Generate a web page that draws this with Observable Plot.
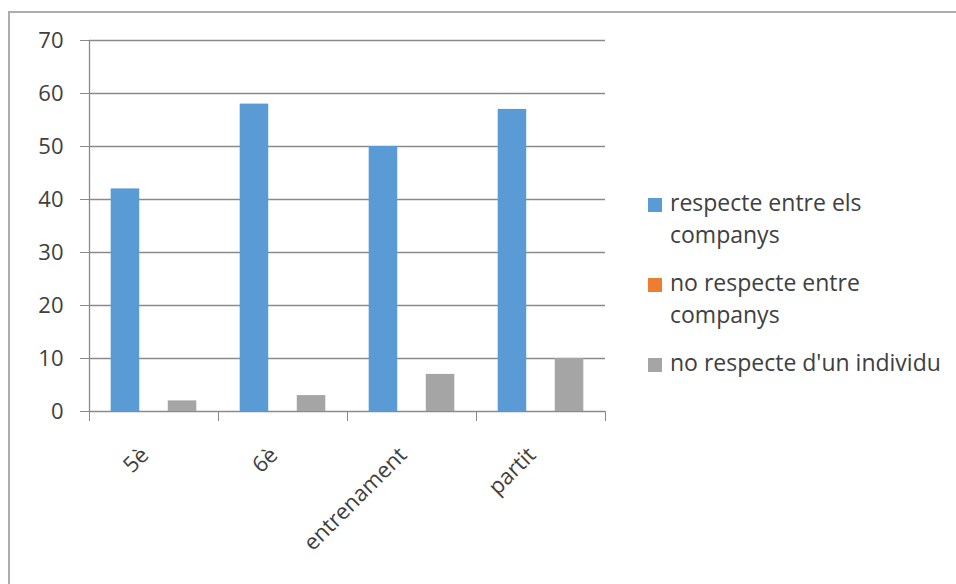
<!DOCTYPE html>
<html><head><meta charset="utf-8">
<script src="https://cdn.jsdelivr.net/npm/d3@7"></script>
<script src="https://cdn.jsdelivr.net/npm/@observablehq/plot@0.6"></script>
<style>
body{margin:0;background:#fff;font-family:"Open Sans", sans-serif;}
#wrap{position:relative;width:956px;height:584px;overflow:hidden;background:#fff;}
#border{position:absolute;left:8px;top:11px;width:960px;height:600px;border-left:2px solid #adadad;border-top:2px solid #adadad;}
#chart{position:absolute;left:0;top:0;}
#legend{position:absolute;left:648px;top:187px;color:#404040;font-size:23px;line-height:31.5px;}
.item{position:relative;padding-left:22px;margin-bottom:17px;width:282px;}
.sw{position:absolute;left:0;top:11px;width:14px;height:14px;}
</style></head>
<body>
<div id="wrap"><div id="border"></div><div id="chart"></div><div id="legend"></div></div>
<script>
const categories = ["5è", "6è", "entrenament", "partit"];
const seriesNames = ["respecte entre els companys", "no respecte entre companys", "no respecte d'un individu"];
const seriesColors = ["#5b9bd5", "#ed7d31", "#a5a5a5"];
const respecte = [42, 58, 50, 57];
const noRespecte = [0, 0, 0, 0];
const noRespecteIndividu = [2, 3, 7, 10];
const yTicks = [0, 10, 20, 30, 40, 50, 60, 70];

const seriesValues = [respecte, noRespecte, noRespecteIndividu];
const inner = d3.scaleBand().domain(seriesNames).range([0, 1]).paddingInner(0).paddingOuter(0.76);
const data = [];
categories.forEach((c, i) => {
  seriesNames.forEach((s, j) => {
    data.push({cat: c, series: s, value: seriesValues[j][i], x1: i + inner(s), x2: i + inner(s) + inner.bandwidth()});
  });
});

const chart = Plot.plot({
  width: 620,
  height: 584,
  marginLeft: 89,
  marginRight: 15,
  marginTop: 40,
  marginBottom: 173,
  style: {fontFamily: "'Open Sans', sans-serif", fontSize: "22px", color: "#404040", background: "transparent"},
  x: {domain: [0, categories.length], axis: null},
  y: {domain: [0, 70], axis: null},
  color: {domain: seriesNames, range: seriesColors},
  marks: [
    Plot.ruleY(yTicks, {stroke: "#8a8a8a", strokeWidth: 1.3}),
    Plot.axisY({ticks: yTicks, tickSize: 9, tickPadding: 17, stroke: "#8a8a8a", fill: "#404040", fontSize: 22, label: null}),
    Plot.rectY(data, {x1: "x1", x2: "x2", y: "value", fill: "series"}),
    Plot.ruleX([0], {stroke: "#8a8a8a", strokeWidth: 1.3}),
    Plot.axisX({ticks: d3.range(categories.length + 1), tickSize: 10, tickFormat: () => "", stroke: "#8a8a8a", label: null}),
    Plot.axisX({ticks: categories.map((c, i) => i + 0.5), tickFormat: d => categories[Math.floor(d)], tickSize: 0, tickPadding: 40, tickRotate: -45, dx: -9, fill: "#404040", fontSize: 22, label: null})
  ]
});
document.getElementById("chart").appendChild(chart);

const legend = document.getElementById("legend");
seriesNames.forEach((s, j) => {
  const it = document.createElement("div");
  it.className = "item";
  const sw = document.createElement("span");
  sw.className = "sw";
  sw.style.background = seriesColors[j];
  it.appendChild(sw);
  it.appendChild(document.createTextNode(s));
  legend.appendChild(it);
});
</script>
</body></html>
